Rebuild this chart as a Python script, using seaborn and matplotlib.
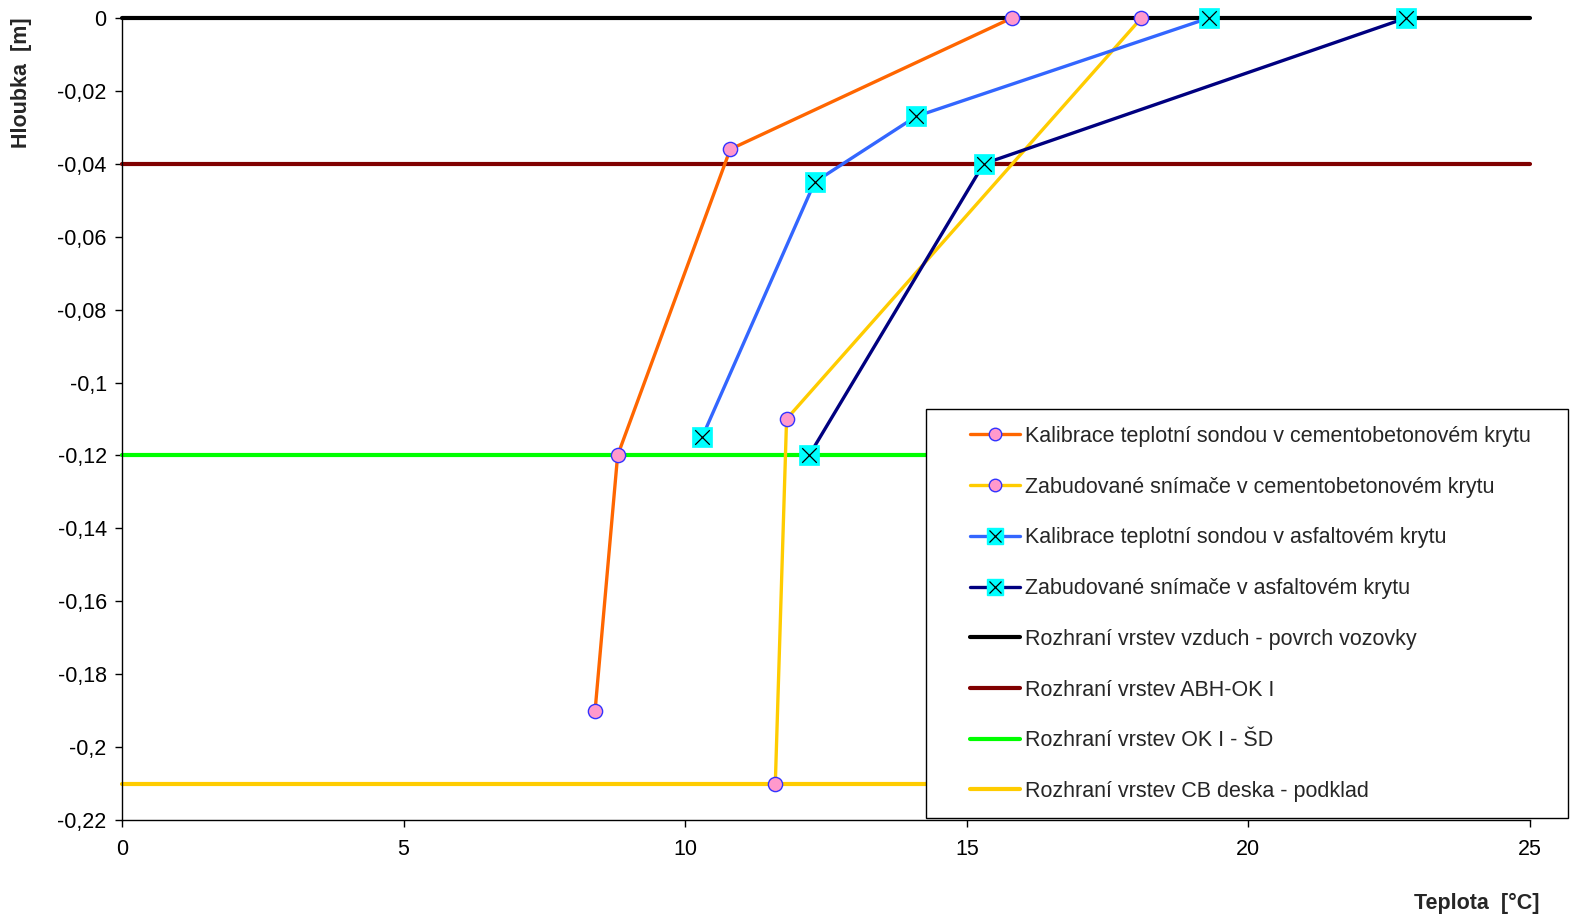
import matplotlib
matplotlib.use("Agg")
import matplotlib.pyplot as plt
import seaborn as sns
import pandas as pd
from matplotlib.lines import Line2D
from matplotlib.patches import Rectangle
from matplotlib.legend_handler import HandlerTuple

# ---- data ----
kal_cb_t = [15.8, 10.8, 8.8, 8.4]
kal_cb_h = [0.0, -0.036, -0.12, -0.19]
zab_cb_t = [18.1, 11.8, 11.6]
zab_cb_h = [0.0, -0.110, -0.21]
kal_as_t = [19.3, 14.1, 12.3, 10.3]
kal_as_h = [0.0, -0.027, -0.045, -0.115]
zab_as_t = [22.8, 15.3, 12.2]
zab_as_h = [0.0, -0.040, -0.12]
boundary_h = [0.0, -0.04, -0.12, -0.21]

series_labels = [
    "Kalibrace teplotní sondou v cementobetonovém krytu",
    "Zabudované snímače v cementobetonovém krytu",
    "Kalibrace teplotní sondou v asfaltovém krytu",
    "Zabudované snímače v asfaltovém krytu",
]
boundary_labels = [
    "Rozhraní vrstev vzduch - povrch vozovky",
    "Rozhraní vrstev ABH-OK I",
    "Rozhraní vrstev OK I - ŠD",
    "Rozhraní vrstev CB deska - podklad",
]
x_ticks = [0, 5, 10, 15, 20, 25]
y_ticks = [0, -0.02, -0.04, -0.06, -0.08, -0.1, -0.12, -0.14, -0.16, -0.18, -0.2, -0.22]
y_ticklabels = ["0", "-0,02", "-0,04", "-0,06", "-0,08", "-0,1", "-0,12", "-0,14",
                "-0,16", "-0,18", "-0,2", "-0,22"]

series_colors = ["#FF6600", "#FFCC00", "#3366FF", "#000080"]
boundary_colors = ["#000000", "#800000", "#00FF00", "#FFCC00"]

FS = 15.5
sns.set_theme(style="white")
plt.rcParams["font.family"] = ["Liberation Sans", "DejaVu Sans"]

W, H = 1584, 924
fig = plt.figure(figsize=(15.84, 9.24), dpi=100)
ax = fig.add_axes([122 / W, 1 - 820 / H, (1530 - 122) / W, (820 - 18) / H])

# boundary lines
for h, c in zip(boundary_h, boundary_colors):
    ax.axhline(h, color=c, lw=3.0, zorder=2, clip_on=False)

series = [(kal_cb_t, kal_cb_h), (zab_cb_t, zab_cb_h), (kal_as_t, kal_as_h), (zab_as_t, zab_as_h)]
for i, ((t, h), c) in enumerate(zip(series, series_colors)):
    df = pd.DataFrame({"t": t, "h": h})
    sns.lineplot(data=df, x="t", y="h", sort=False, estimator=None, color=c, lw=2.4,
                 ax=ax, zorder=3)
    if i < 2:
        sns.scatterplot(data=df, x="t", y="h", marker="o", s=105, color="#FF99CC",
                        edgecolor="#3333FF", linewidth=1.0, ax=ax, zorder=5, clip_on=False)
    else:
        sns.scatterplot(data=df, x="t", y="h", marker="s", s=190, color="#00FFFF",
                        edgecolor="#00FFFF", linewidth=0.5, ax=ax, zorder=5, clip_on=False)
        sns.scatterplot(data=df, x="t", y="h", marker="x", s=110, color="#000000",
                        linewidth=0.9, ax=ax, zorder=6, clip_on=False)

ax.set_xlim(0, 25)
ax.set_ylim(-0.22, 0)
ax.set_xticks(x_ticks)
ax.set_xticklabels([str(v) for v in x_ticks])
ax.set_yticks(y_ticks)
ax.set_yticklabels(y_ticklabels)
ax.tick_params(axis="both", which="major", labelsize=FS, colors="black", direction="out",
               length=5, width=1, left=True, bottom=True)
ax.tick_params(axis="y", pad=6)
ax.tick_params(axis="x", pad=9)
for s in ["top", "right"]:
    ax.spines[s].set_visible(False)
for s in ["left", "bottom"]:
    ax.spines[s].set_color("black")
    ax.spines[s].set_linewidth(1.0)
ax.set_xlabel("")
ax.set_ylabel("")

fig.text(22 / W, 1 - 83 / H, "Hloubka  [m]", rotation=90, fontsize=FS,
         fontweight="bold", ha="center", va="center")
fig.text(1477 / W, 1 - 903 / H, "Teplota  [°C]", fontsize=FS,
         fontweight="bold", ha="center", va="center")

# legend frame
fig.patches.append(Rectangle((926 / W, 1 - 818 / H), (1568 - 926) / W, (818 - 409) / H,
                             transform=fig.transFigure, facecolor="white",
                             edgecolor="black", lw=1.0, zorder=9))

handles = []
for i, c in enumerate(series_colors):
    ln = Line2D([], [], color=c, lw=2.4)
    if i < 2:
        mk = Line2D([], [], ls="none", marker="o", markersize=9, markerfacecolor="#FF99CC",
                    markeredgecolor="#3333FF", markeredgewidth=1.0)
        handles.append((ln, mk))
    else:
        mk = Line2D([], [], ls="none", marker="s", markersize=12, markerfacecolor="#00FFFF",
                    markeredgecolor="#00FFFF")
        mx = Line2D([], [], ls="none", marker="x", markersize=9, color="black",
                    markeredgewidth=0.9)
        handles.append((ln, mk, mx))
for c in boundary_colors:
    handles.append(Line2D([], [], color=c, lw=3.0))

leg = fig.legend(handles, series_labels + boundary_labels,
                 handler_map={tuple: HandlerTuple(ndivide=1, pad=0)},
                 loc="upper left", bbox_to_anchor=(970 / W, 1 - 426 / H),
                 bbox_transform=fig.transFigure, fontsize=FS, frameon=False,
                 borderpad=0, labelspacing=1.38, handlelength=2.33, handletextpad=0.22,
                 borderaxespad=0)
leg.set_zorder(10)

fig.savefig("out.png", dpi=100, facecolor="white")
